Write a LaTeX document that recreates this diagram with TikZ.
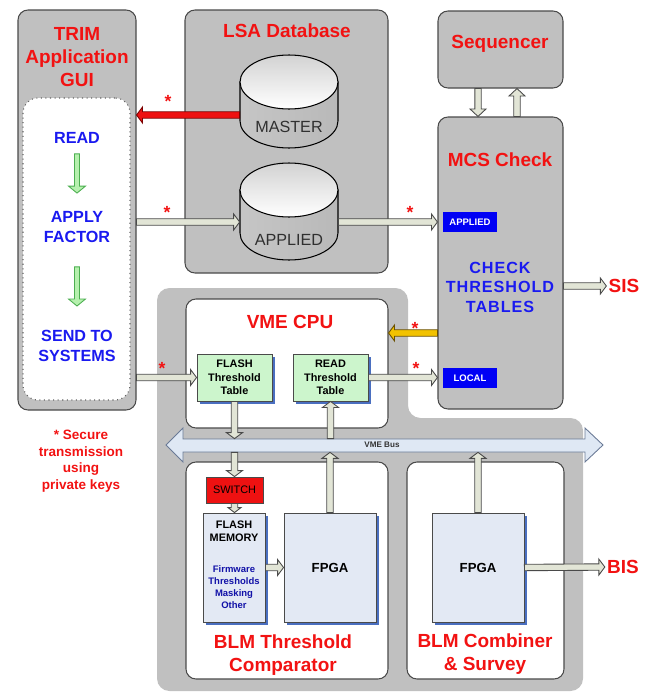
\documentclass[tikz,border=0pt]{standalone}
\usepackage{fontspec}
\setmainfont{Liberation Sans}
\newfontfamily\spacedfont[LetterSpace=6]{Liberation Sans}
\usetikzlibrary{calc,fit,shadows}

\definecolor{boxgray}{HTML}{C0C0C0}
\definecolor{edgegray}{HTML}{4A4A4A}
\definecolor{titlered}{HTML}{F21212}
\definecolor{textblue}{HTML}{1A1AF0}
\definecolor{arrowfill}{HTML}{E2E5D6}
\definecolor{tablegreen}{HTML}{CCF5CC}
\definecolor{chipblue}{HTML}{E3E9F4}
\definecolor{shadowblue}{HTML}{4A6FC0}
\definecolor{busblue}{HTML}{DFE8F4}
\definecolor{busedge}{HTML}{6A7A96}
\definecolor{tagblue}{HTML}{0000F5}
\definecolor{secured}{HTML}{EE1111}
\definecolor{securedge}{HTML}{7A0000}
\definecolor{cpugold}{HTML}{F2C200}
\definecolor{goldedge}{HTML}{6A5000}
\definecolor{greenarrow}{HTML}{B6F0AE}
\definecolor{greenedge}{HTML}{4CAF50}
\definecolor{dbtext}{HTML}{303030}
\definecolor{switchred}{HTML}{EE1111}

\newcommand{\titlefont}{\bfseries\fontsize{10.8}{13.3}\selectfont}
\newcommand{\stepfont}{\bfseries\fontsize{9.2}{11.3}\selectfont}
\newcommand{\tablefont}{\bfseries\fontsize{6.2}{7.65}\selectfont}
\newcommand{\listfont}{\bfseries\fontsize{5.4}{6.8}\selectfont}
\newcommand{\fpgafont}{\bfseries\fontsize{7.5}{9}\selectfont}

% fat hollow arrow between two points
\newcommand{\fatarrow}[3][]{%
  \begin{scope}[fatarrow,#1]
    \coordinate (fa-s) at #2;
    \coordinate (fa-e) at #3;
    \coordinate (fa-b) at ($(fa-e)!\falen!(fa-s)$);
    \filldraw ($(fa-s)!\fashaft!90:(fa-e)$) -- ($(fa-b)!\fashaft!90:(fa-e)$)
      -- ($(fa-b)!\fahead!90:(fa-e)$) -- (fa-e)
      -- ($(fa-b)!\fahead!-90:(fa-e)$) -- ($(fa-b)!\fashaft!-90:(fa-e)$)
      -- ($(fa-s)!\fashaft!-90:(fa-e)$) -- cycle;
  \end{scope}}

\tikzset{
  fa shaft/.store in=\fashaft, fa head/.store in=\fahead, fa len/.store in=\falen,
  fa shaft=0.064cm, fa head=0.16cm, fa len=0.12cm,
  fatarrow/.style={fill=arrowfill, draw=edgegray, line width=0.5pt, line join=miter},
  graybox/.style={draw=edgegray, fill=boxgray, rounded corners=0.2cm, line width=0.6pt, inner sep=0},
  whitebox/.style={draw=edgegray, fill=white, rounded corners=0.2cm, line width=0.6pt, inner sep=0},
  title/.style={text=titlered, font=\titlefont, align=center},
  steptext/.style={text=textblue, font=\stepfont, align=center, inner sep=0},
  boxtext/.style={align=center, inner sep=0},
  tablebox/.style={draw=edgegray, fill=tablegreen, inner sep=0, line width=0.5pt,
    drop shadow={shadow xshift=0.05cm, shadow yshift=-0.05cm, fill=shadowblue, opacity=1}},
  chipbox/.style={tablebox, fill=chipblue},
  tag/.style={fill=tagblue, text=white, font=\bfseries\fontsize{5.4}{6}\selectfont,
    inner sep=0, minimum width=1.08cm, minimum height=0.4cm},
  star/.style={text=titlered, font=\bfseries\fontsize{10}{10}\selectfont, inner sep=0},
  cylbody/.style={draw=black, line width=0.6pt, left color=gray!45, middle color=white, right color=gray!55},
  cylcap/.style={draw=black, line width=0.6pt, top color=gray!35, bottom color=white},
}

\begin{document}
\begin{tikzpicture}[x=0.02cm,y=-0.02cm]
\useasboundingbox (0,0) rectangle (651,693);
% ---------- rows used by the horizontal links ----------
\coordinate (row-master) at (0,115);
\coordinate (row-cpu) at (0,333);

% ---------- crate background ----------
\fill[boxgray, rounded corners=0.25cm] (157,288) -- (408,288) -- (408,418)
      -- (583,418) -- (583,691) -- (157,691) -- cycle;

% ---------- TRIM application ----------
\node[graybox, fit={(18,10) (136,410)}] (trim) {};
\node[title] (trimtitle) at (77,57) {TRIM\\Application\\GUI};
\node[fill=white, draw=gray!80!black, dotted, line width=0.6pt, rounded corners=0.3cm, inner sep=0,
      fit={(23,98) (130,400)}] (trimsteps) {};
\node[steptext] (stepread) at (77,138) {READ};
\node[steptext] (stepapply) at (77,227) {APPLY\\FACTOR};
\node[steptext] (stepsend) at (77,346) {SEND TO\\SYSTEMS};
\fatarrow[fill=greenarrow, draw=greenedge, fa shaft=0.05cm, fa head=0.17cm, fa len=0.14cm]
  {($(stepread.south)+(0,10)$)}{($(stepapply.north)+(0,-18)$)}
\fatarrow[fill=greenarrow, draw=greenedge, fa shaft=0.05cm, fa head=0.17cm, fa len=0.14cm]
  {($(stepapply.south)+(0,24)$)}{($(stepsend.north)+(0,-24)$)}

% ---------- LSA database ----------
\node[graybox, fit={(185,10) (388,273)}] (lsa) {};
\node[title] (lsatitle) at (287,31) {LSA Database};
\node[inner sep=0, fit={(240,55) (338,148)}] (master) {};
\draw[cylbody] (240,82) -- (240,121) arc[start angle=180, end angle=360, x radius=0.98cm, y radius=0.54cm]
      -- (338,82) -- cycle;
\draw[cylcap] (289,82) ellipse[x radius=0.98cm, y radius=0.54cm];
\node[text=dbtext, font=\fontsize{9.2}{11}\selectfont] (masterlbl) at (289,127) {MASTER};
\node[inner sep=0, fit={(240,163) (338,260)}] (appliedcyl) {};
\draw[cylbody] (240,190) -- (240,233) arc[start angle=180, end angle=360, x radius=0.98cm, y radius=0.54cm]
      -- (338,190) -- cycle;
\draw[cylcap] (289,190) ellipse[x radius=0.98cm, y radius=0.54cm];
\node[text=dbtext, font=\fontsize{9.2}{11}\selectfont] (appliedlbl) at (289,240) {APPLIED};

% ---------- sequencer and MCS ----------
\node[graybox, fit={(438,11) (563,88)}] (seq) {};
\node[title] (seqtitle) at (500,44) {Sequencer};
\node[graybox, fit={(438,117) (563,409)}] (mcs) {};
\node[title] (mcstitle) at (500,160) {MCS Check};
\node[tag] (lblapplied) at (470,222) {APPLIED};
\node[tag] (lbllocal) at (470,378) {LOCAL};
\node[text=textblue, font=\spacedfont\bfseries\fontsize{9.2}{11.1}\selectfont, align=center]
  (check) at (500,287) {CHECK\\THRESHOLD\\TABLES};
\node[title, inner sep=0.04cm] (sis) at (624,286) {SIS};

% ---------- VME CPU ----------
\node[whitebox, fit={(186,299) (388,428)}] (cpu) {};
\node[title] (cputitle) at (290,322) {VME CPU};
\node[tablebox, fit={(197,354) (272,401)}] (flashtbl) {};
\node[boxtext, font=\tablefont] (flashtxt) at (flashtbl) {FLASH\\Threshold\\Table};
\node[tablebox, fit={(293,354) (368,401)}] (readtbl) {};
\node[boxtext, font=\tablefont] (readtxt) at (readtbl) {READ\\Threshold\\Table};

% ---------- VME bus ----------
\node[inner sep=0, fit={(183,439) (585,452)}] (bus) {};
\filldraw[fill=busblue, draw=busedge, line width=0.5pt] (166,445) -- (183,428) -- (183,439)
      -- (585,439) -- (585,428) -- (603,445) -- (585,462) -- (585,452)
      -- (183,452) -- (183,462) -- cycle;
\node[font=\bfseries\fontsize{4.6}{5}\selectfont, text=black!80] (buslbl) at (382,445) {VME Bus};

% ---------- BLM threshold comparator ----------
\node[whitebox, fit={(186,462) (388,679)}] (comp) {};
\node[title] (comptitle) at (283,655) {BLM Threshold\\Comparator};
\node[draw=edgegray, fill=switchred, line width=0.5pt, inner sep=0, fit={(206,477) (263,503)}] (switch) {};
\node[boxtext, font=\fontsize{6.2}{7}\selectfont] (switchtxt) at (switch) {SWITCH};
\node[chipbox, fit={(203,513) (265,622)}] (flashmem) {};
\node[boxtext, font=\tablefont] (memtitle) at (234,531) {FLASH\\MEMORY};
\node[boxtext, font=\listfont, text=textblue!70!black] (memlist) at (234,587)
  {Firmware\\Thresholds\\Masking\\Other};
\node[chipbox, fit={(284,513) (376,622)}] (fpgaA) {};
\node[boxtext, font=\fpgafont] (fpgaAtxt) at (fpgaA) {FPGA};

% ---------- BLM combiner ----------
\node[whitebox, fit={(407,462) (564,679)}] (comb) {};
\node[title] (combtitle) at (485,654) {BLM Combiner\\\& Survey};
\node[chipbox, fit={(432,513) (524,622)}] (fpgaB) {};
\node[boxtext, font=\fpgafont] (fpgaBtxt) at (fpgaB) {FPGA};
\node[title, inner sep=0.04cm] (bis) at (623,567) {BIS};

% ---------- links ----------
\fatarrow[fill=secured, draw=securedge]{(master.west |- row-master)}{(trim.east |- row-master)}
\fatarrow{(trim.east |- lblapplied)}{(appliedcyl.west |- lblapplied)}
\fatarrow{(appliedcyl.east |- lblapplied)}{(mcs.west |- lblapplied)}
\fatarrow[fa len=0.15cm]{([xshift=-0.45cm]seq.south)}{([xshift=-0.45cm]mcs.north)}
\fatarrow[fa len=0.15cm]{([xshift=0.33cm]mcs.north)}{([xshift=0.33cm]seq.south)}
\fatarrow{(mcs.east |- sis)}{(sis.west)}
\fatarrow[fill=cpugold, draw=goldedge]{(mcs.west |- row-cpu)}{(cpu.east |- row-cpu)}
\fatarrow{(trim.east |- flashtbl.west)}{(flashtbl.west)}
\fatarrow{(readtbl.east)}{(mcs.west |- readtbl.east)}
\fatarrow{(flashtbl.south)}{(flashtbl.south |- bus.north)}
\fatarrow{(switch.north |- bus.south)}{(switch.north)}
\fatarrow[fa head=0.13cm, fa len=0.1cm]{(switch.south)}{(switch.south |- flashmem.north)}
\fatarrow{(readtbl.south |- bus.north)}{(readtbl.south)}
\fatarrow{(fpgaA.north)}{(fpgaA.north |- bus.south)}
\fatarrow{(flashmem.east)}{(fpgaA.west)}
\fatarrow{(fpgaB.north)}{(fpgaB.north |- bus.south)}
\fatarrow{(fpgaB.east)}{(bis.west)}

% ---------- secure marks ----------
\node[star] (star1) at (168,101) {*};
\node[star] (star2) at (167,212) {*};
\node[star] (star3) at (410,212) {*};
\node[star] (star4) at (162,368) {*};
\node[star] (star5) at (415,328) {*};
\node[star] (star6) at (416,368) {*};
\node[text=titlered, font=\bfseries\fontsize{7.7}{9.4}\selectfont, align=center] (note) at (81,461)
  {* Secure\\transmission\\using\\private keys};
\end{tikzpicture}
\end{document}
